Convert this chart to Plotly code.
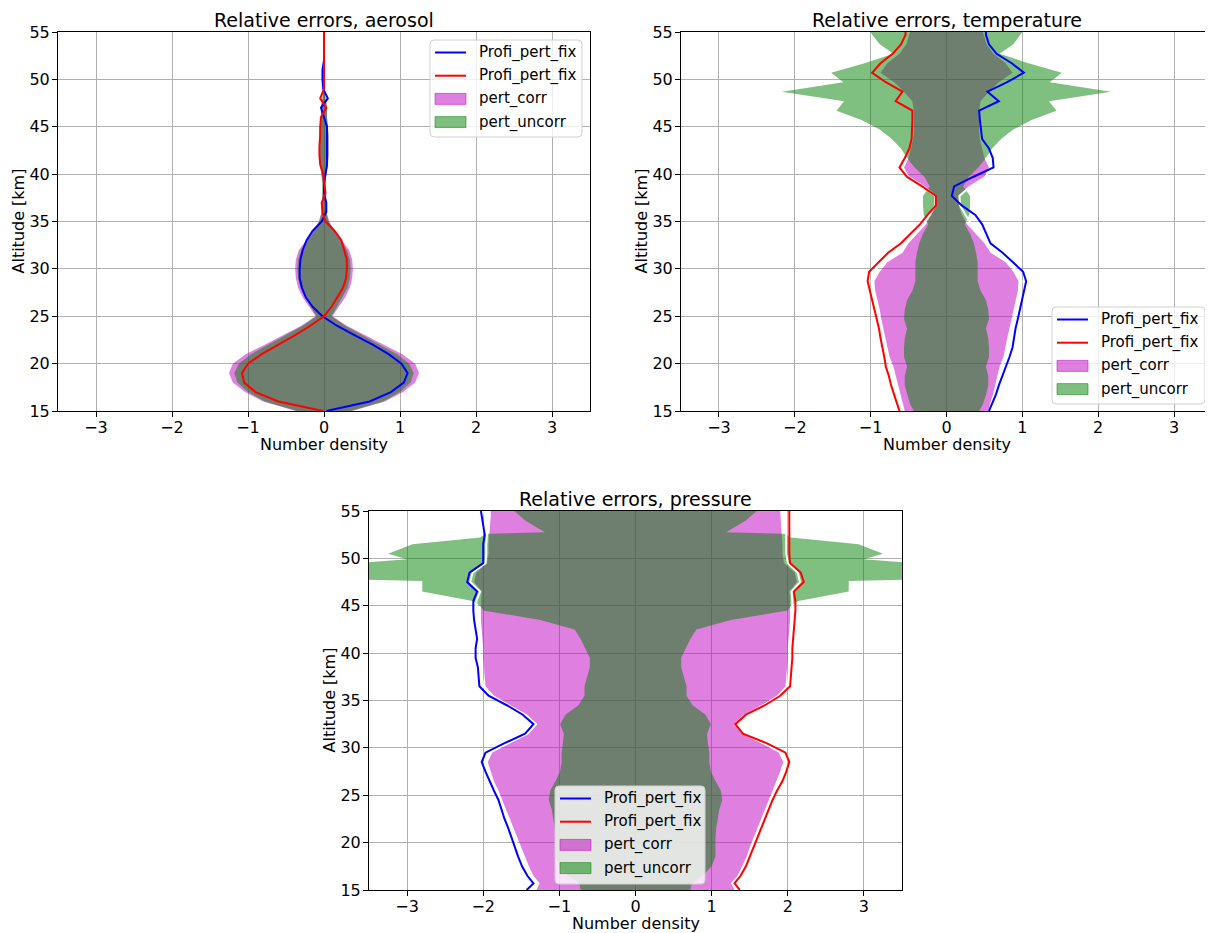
import plotly.graph_objects as go

# ---------------- data ----------------
# Aerosol panel (altitude km)
alt_a = [15, 16, 17, 18, 19, 20, 21, 22, 23, 24, 25, 26, 27, 28, 29, 30, 31, 32, 33, 34, 35,
         36, 37, 38, 39, 40, 41, 42, 43, 44, 45, 46, 47, 48, 49, 50, 51, 52, 53, 54, 55]
aer_corr = [0.37, 0.8, 1.04, 1.2, 1.25, 1.2, 1.03, 0.78, 0.53, 0.3, 0.11, 0.19, 0.28, 0.34, 0.37,
            0.38, 0.37, 0.33, 0.24, 0.14, 0.07, 0.03, 0.03, 0.02, 0.02, 0.03, 0.05, 0.06, 0.06,
            0.06, 0.05, 0.04, 0.04, 0.02, 0.01, 0.01, 0.01, 0.01, 0.01, 0.01, 0.01]
aer_uncorr = [0.35, 0.78, 1.0, 1.14, 1.18, 1.12, 0.96, 0.74, 0.5, 0.28, 0.1, 0.17, 0.25, 0.31, 0.34,
              0.35, 0.34, 0.3, 0.22, 0.13, 0.06, 0.03, 0.03, 0.02, 0.02, 0.03, 0.05, 0.06, 0.06,
              0.06, 0.05, 0.04, 0.04, 0.02, 0.01, 0.01, 0.01, 0.01, 0.01, 0.01, 0.01]
aer_blue = [0.03, 0.6, 0.88, 1.05, 1.1, 1.02, 0.85, 0.64, 0.4, 0.17, -0.02, -0.15, -0.24, -0.29,
            -0.32, -0.32, -0.31, -0.28, -0.23, -0.15, -0.03, 0.03, 0.03, 0.0, 0.0, 0.02, 0.04,
            0.04, 0.04, 0.04, 0.04, 0.0, -0.04, 0.05, -0.01, -0.02, -0.02, 0.0, 0.0, 0.0, 0.0]
aer_red = [-0.01, -0.6, -0.9, -1.05, -1.08, -1.0, -0.82, -0.6, -0.38, -0.18, 0.0, 0.1, 0.18, 0.25,
           0.29, 0.3, 0.3, 0.27, 0.23, 0.14, 0.02, -0.02, -0.03, 0.02, 0.0, -0.01, -0.05, -0.06,
           -0.06, -0.05, -0.05, -0.04, 0.03, -0.05, 0.0, 0.0, 0.0, 0.0, 0.0, 0.0, 0.0]

# Temperature panel
alt_t = [15.0, 15.7, 16.7, 17.7, 18.7, 19.7, 20.7, 21.7, 22.7, 23.7, 24.7, 25.7, 26.7, 27.7,
         28.7, 29.7, 30.7, 31.7, 32.7, 33.7, 34.7, 35.7, 36.7, 37.7, 38.7, 39.7, 40.7, 41.7,
         42.7, 43.7, 44.7, 45.7, 46.7, 47.7, 48.7, 49.7, 50.7, 51.7, 52.7, 53.7, 54.7, 55.0]
tem_corr = [0.55, 0.57, 0.61, 0.64, 0.67, 0.70, 0.75, 0.78, 0.80, 0.83, 0.86, 0.88, 0.91, 0.94,
            0.95, 0.88, 0.78, 0.58, 0.50, 0.39, 0.27, 0.20, 0.16, 0.17, 0.30, 0.50, 0.56, 0.50,
            0.47, 0.44, 0.43, 0.43, 0.43, 0.45, 0.56, 0.69, 0.87, 0.78, 0.62, 0.53, 0.49, 0.48]
tem_uncorr = [0.43, 0.48, 0.52, 0.55, 0.55, 0.52, 0.56, 0.56, 0.55, 0.52, 0.56, 0.55, 0.52, 0.45,
              0.41, 0.41, 0.41, 0.39, 0.36, 0.31, 0.24, 0.30, 0.31, 0.31, 0.22, 0.29, 0.42, 0.52,
              0.60, 0.72, 0.88, 1.12, 1.45, 1.35, 2.17, 1.36, 1.52, 1.08, 0.70, 0.88, 0.98, 1.0]
tem_blue = [0.56, 0.60, 0.65, 0.69, 0.74, 0.78, 0.83, 0.87, 0.89, 0.91, 0.94, 0.97, 0.99, 1.02,
            1.05, 1.01, 0.88, 0.74, 0.58, 0.52, 0.47, 0.38, 0.20, 0.07, 0.10, 0.35, 0.62, 0.61,
            0.56, 0.47, 0.45, 0.44, 0.43, 0.69, 0.54, 0.80, 1.02, 0.86, 0.66, 0.56, 0.52, 0.52]
tem_red = [-0.62, -0.65, -0.69, -0.73, -0.76, -0.80, -0.82, -0.85, -0.87, -0.89, -0.92, -0.95,
           -0.98, -1.00, -1.04, -1.02, -0.90, -0.77, -0.60, -0.47, -0.35, -0.25, -0.14, -0.14,
           -0.32, -0.52, -0.62, -0.55, -0.49, -0.46, -0.45, -0.45, -0.45, -0.67, -0.58, -0.80,
           -0.98, -0.87, -0.71, -0.60, -0.54, -0.54]
alt_tw = [15.0, 15.7, 16.7, 17.7, 18.7, 19.7, 20.7, 21.7, 22.7, 23.7, 24.7, 25.7, 26.7, 27.7,
          28.7, 29.7, 30.7, 31.7, 32.7, 33.7, 34.7, 35.7, 36.7, 37.7, 38.7, 39.7, 40.7, 41.7]
tem_white_r = [0.57, 0.59, 0.63, 0.66, 0.69, 0.73, 0.78, 0.81, 0.83, 0.86, 0.89, 0.91, 0.94, 0.97,
               0.99, 0.93, 0.82, 0.64, 0.54, 0.44, 0.33, 0.25, 0.18, 0.17, 0.31, 0.52, 0.58, 0.52]
tem_white_l = [-0.58, -0.61, -0.64, -0.67, -0.70, -0.74, -0.77, -0.80, -0.83, -0.85, -0.88, -0.91,
               -0.93, -0.96, -0.99, -0.96, -0.85, -0.70, -0.55, -0.43, -0.31, -0.22, -0.15, -0.15,
               -0.30, -0.50, -0.58, -0.52]

# Pressure panel
alt_p = [15.0, 15.7, 16.5, 17.5, 18.5, 19.5, 20.5, 21.5, 22.5, 23.5, 24.5, 25.5, 26.5, 27.5,
         28.5, 29.5, 30.5, 31.5, 32.5, 33.5, 34.5, 35.5, 36.5, 37.5, 38.5, 39.5, 40.5, 41.5,
         42.5, 43.5, 44.5, 45.5, 46.5, 47.5, 48.5, 49.5, 50.5, 51.5, 52.5, 53.5, 54.5, 55.0]
pre_corr = [1.30, 1.26, 1.34, 1.40, 1.46, 1.50, 1.55, 1.60, 1.65, 1.70, 1.75, 1.80, 1.86, 1.90,
            1.94, 1.88, 1.65, 1.40, 1.29, 1.42, 1.66, 1.86, 1.97, 1.98, 1.99, 2.00, 2.00, 2.01,
            2.02, 2.03, 2.03, 2.03, 2.02, 2.12, 2.09, 1.95, 1.93, 1.93, 1.92, 1.91, 1.90, 1.90]
pre_blue = [-1.43, -1.34, -1.42, -1.49, -1.54, -1.58, -1.63, -1.67, -1.72, -1.76, -1.80, -1.86,
            -1.92, -1.97, -2.02, -1.97, -1.72, -1.45, -1.34, -1.48, -1.69, -1.93, -2.05, -2.06,
            -2.07, -2.10, -2.10, -2.08, -2.10, -2.12, -2.13, -2.13, -2.08, -2.21, -2.18, -2.00,
            -2.00, -2.00, -1.98, -2.00, -2.02, -2.03]
pre_red = [1.37, 1.30, 1.38, 1.45, 1.50, 1.55, 1.59, 1.64, 1.69, 1.74, 1.80, 1.86, 1.93, 1.98,
           2.02, 1.97, 1.72, 1.41, 1.31, 1.45, 1.70, 1.90, 2.03, 2.04, 2.05, 2.06, 2.06, 2.07,
           2.08, 2.09, 2.10, 2.10, 2.08, 2.21, 2.17, 2.03, 2.02, 2.02, 2.02, 2.02, 2.02, 2.02]
pre_white_r = [1.33, 1.27, 1.36, 1.42, 1.48, 1.52, 1.57, 1.62, 1.67, 1.72, 1.77, 1.83, 1.89, 1.94,
               1.98, 1.93, 1.68, 1.43, 1.32, 1.46, 1.68, 1.88, 2.00, 2.01, 2.02, 2.02, 2.03, 2.04,
               2.05, 2.06, 2.06, 2.06, 2.05, 2.16, 2.13, 2.00, 1.98, 1.98, 1.98, 1.98, 1.98, 1.98]
pre_white_l = [-1.38, -1.30, -1.38, -1.45, -1.50, -1.54, -1.59, -1.63, -1.68, -1.72, -1.77, -1.83,
               -1.89, -1.94, -1.98, -1.93, -1.68, -1.42, -1.31, -1.45, -1.67, -1.88, -2.00, -2.02,
               -2.03, -2.05, -2.05, -2.04, -2.06, -2.08, -2.09, -2.09, -2.04, -2.17, -2.14, -1.97,
               -1.96, -1.96, -1.95, -1.96, -1.98, -1.99]
alt_pu = [15.0, 15.7, 16.5, 17.5, 18.5, 19.5, 20.5, 21.5, 22.5, 23.5, 24.5, 25.5, 26.5, 27.5,
          28.5, 29.5, 30.5, 31.5, 32.5, 33.5, 34.5, 35.5, 36.5, 37.5, 38.5, 39.5, 40.5, 41.5,
          42.5, 43.5, 44.5, 45.0, 45.5, 46.5, 47.6, 47.8, 48.5, 49.4, 49.9, 50.5, 51.5, 52.2,
          52.6, 52.75, 54.0, 55.0]
pre_uncorr = [0.72, 0.74, 0.88, 1.00, 1.05, 1.05, 1.05, 1.06, 1.08, 1.10, 1.14, 1.12, 1.05, 0.99,
              0.97, 0.97, 0.95, 0.94, 0.99, 0.92, 0.75, 0.67, 0.67, 0.64, 0.60, 0.60, 0.66, 0.72,
              0.80, 1.25, 2.00, 2.04, 2.14, 2.80, 2.80, 3.80, 3.80, 3.80, 3.00, 3.25, 2.93, 2.04,
              1.95, 1.19, 1.45, 1.59]

titles = ["Relative errors, aerosol", "Relative errors, temperature", "Relative errors, pressure"]
legend_labels = ["Profi_pert_fix", "Profi_pert_fix", "pert_corr", "pert_uncorr"]
x_label = "Number density"
y_label = "Altitude [km]"
x_ticks = [-3, -2, -1, 0, 1, 2, 3]
y_ticks = [15, 20, 25, 30, 35, 40, 45, 50, 55]

# ---------------- styles ----------------
OFF = 8                      # page body margin of the html page
W, H = 1213 - OFF, 933 - OFF  # figure size so that it ends at the window edge
FONT = "DejaVu Sans"
MAG = "rgba(191,0,191,0.5)"
GRN = "rgba(0,128,0,0.5)"


def px(xp):
    return (xp - OFF) / W


def py(yp):
    return 1 - (yp - OFF) / H


fig = go.Figure()


def band(alt, vals):
    xs = list(vals) + [-v for v in vals[::-1]]
    ys = list(alt) + list(alt[::-1])
    return xs, ys


panels = [
    dict(ax="x", ay="y", c=(alt_a, aer_corr), u=(alt_a, aer_uncorr),
         lines=(alt_a, aer_blue, aer_red), white=None),
    dict(ax="x2", ay="y2", c=(alt_t, tem_corr), u=(alt_t, tem_uncorr),
         lines=(alt_t, tem_blue, tem_red), white=(alt_tw, tem_white_l, tem_white_r)),
    dict(ax="x3", ay="y3", c=(alt_p, pre_corr), u=(alt_pu, pre_uncorr),
         lines=(alt_p, pre_blue, pre_red), white=(alt_p, pre_white_l, pre_white_r)),
]

for p in panels:
    xs, ys = band(*p["c"])
    fig.add_trace(go.Scatter(x=xs, y=ys, fill="toself", fillcolor=MAG, mode="lines",
                             line=dict(width=0, color=MAG), name=legend_labels[2],
                             xaxis=p["ax"], yaxis=p["ay"], hoverinfo="skip"))
    xs, ys = band(*p["u"])
    fig.add_trace(go.Scatter(x=xs, y=ys, fill="toself", fillcolor=GRN, mode="lines",
                             line=dict(width=0, color=GRN), name=legend_labels[3],
                             xaxis=p["ax"], yaxis=p["ay"], hoverinfo="skip"))
    if p["white"] is not None:
        wa, wl, wr = p["white"]
        for wv in (wl, wr):
            fig.add_trace(go.Scatter(x=wv, y=wa, mode="lines", line=dict(color="white", width=2),
                                     xaxis=p["ax"], yaxis=p["ay"], hoverinfo="skip"))
    la, lb, lr = p["lines"]
    fig.add_trace(go.Scatter(x=lb, y=la, mode="lines", line=dict(color="blue", width=2),
                             name=legend_labels[0], xaxis=p["ax"], yaxis=p["ay"]))
    fig.add_trace(go.Scatter(x=lr, y=la, mode="lines", line=dict(color="red", width=2),
                             name=legend_labels[1], xaxis=p["ax"], yaxis=p["ay"]))

# axis geometry in window pixels: (left, right, top, bottom)
boxes = [(58, 590, 32, 411), (681, 1212, 32, 411), (369, 902, 511, 890)]
axis_common = dict(showline=True, mirror=True, linecolor="black", linewidth=1,
                   ticks="outside", ticklen=5, tickcolor="black", tickwidth=1,
                   showgrid=True, gridcolor="#b0b0b0", gridwidth=1, zeroline=False,
                   automargin=False,
                   tickfont=dict(family=FONT, size=16, color="black"))
layout_axes = {}
annotations = []
for i, (l, r, t, b) in enumerate(boxes):
    sx = "" if i == 0 else str(i + 1)
    layout_axes["xaxis" + sx] = dict(axis_common, domain=[px(l), px(r)], range=[-3.5, 3.5],
                                    tickvals=x_ticks, anchor="y" + sx, ticklabelstandoff=-3)
    layout_axes["yaxis" + sx] = dict(axis_common, domain=[py(b), py(t)], range=[15, 55],
                                    tickvals=y_ticks, anchor="x" + sx, ticklabelstandoff=-1)
    annotations.append(dict(text=titles[i], xref="paper", yref="paper", x=px((l + r) / 2),
                            y=py(t - 12), xanchor="center", yanchor="middle",
                            showarrow=False, font=dict(family=FONT, size=19, color="black")))
    annotations.append(dict(text=x_label, xref="paper", yref="paper", x=px((l + r) / 2),
                            y=py(b + 33), xanchor="center", yanchor="middle",
                            showarrow=False, font=dict(family=FONT, size=16, color="black")))
    annotations.append(dict(text=y_label, xref="paper", yref="paper", x=px(l - 40),
                            y=py((t + b) / 2), xanchor="center", yanchor="middle",
                            textangle=-90, showarrow=False,
                            font=dict(family=FONT, size=16, color="black")))

# ---------------- custom legends (matplotlib-like) ----------------
shapes = []
legend_boxes = [(430, 40, 582, 137), (1052, 307, 1205, 404), (555, 786, 705, 884)]


def rounded_rect(x0, y0, x1, y1, r=4):
    rx, ry = r / W, r / H
    X0, X1, Y0, Y1 = px(x0), px(x1), py(y0), py(y1)  # Y0 is top (larger)
    return (f"M{X0 + rx},{Y0} L{X1 - rx},{Y0} Q{X1},{Y0} {X1},{Y0 - ry} "
            f"L{X1},{Y1 + ry} Q{X1},{Y1} {X1 - rx},{Y1} L{X0 + rx},{Y1} "
            f"Q{X0},{Y1} {X0},{Y1 + ry} L{X0},{Y0 - ry} Q{X0},{Y0} {X0 + rx},{Y0} Z")


for (x0, y0, x1, y1) in legend_boxes:
    shapes.append(dict(type="path", xref="paper", yref="paper", path=rounded_rect(x0, y0, x1, y1),
                       fillcolor="rgba(255,255,255,0.8)", line=dict(color="#d0d0d0", width=1),
                       layer="above"))
    rows = [y0 + 12.5 + 23.2 * k for k in range(4)]
    hx0, hx1 = x0 + 5, x0 + 36
    shapes.append(dict(type="line", xref="paper", yref="paper", x0=px(hx0), x1=px(hx1),
                       y0=py(rows[0]), y1=py(rows[0]), line=dict(color="blue", width=2),
                       layer="above"))
    shapes.append(dict(type="line", xref="paper", yref="paper", x0=px(hx0), x1=px(hx1),
                       y0=py(rows[1]), y1=py(rows[1]), line=dict(color="red", width=2),
                       layer="above"))
    for k, col in ((2, MAG), (3, GRN)):
        shapes.append(dict(type="rect", xref="paper", yref="paper", x0=px(hx0), x1=px(hx1),
                           y0=py(rows[k] - 5.5), y1=py(rows[k] + 5.5), fillcolor=col,
                           line=dict(color=col, width=1), layer="above"))
    for k, lab in enumerate(legend_labels):
        annotations.append(dict(text=lab, xref="paper", yref="paper", x=px(x0 + 47),
                                y=py(rows[k]), xanchor="left", yanchor="middle",
                                showarrow=False,
                                font=dict(family=FONT, size=15, color="black")))

fig.update_layout(
    width=W, height=H,
    margin=dict(l=0, r=0, t=0, b=0),
    paper_bgcolor="white", plot_bgcolor="white",
    font=dict(family=FONT, size=16, color="black"),
    showlegend=False,
    annotations=annotations,
    shapes=shapes,
    **layout_axes,
)

fig.write_html("out.html")
